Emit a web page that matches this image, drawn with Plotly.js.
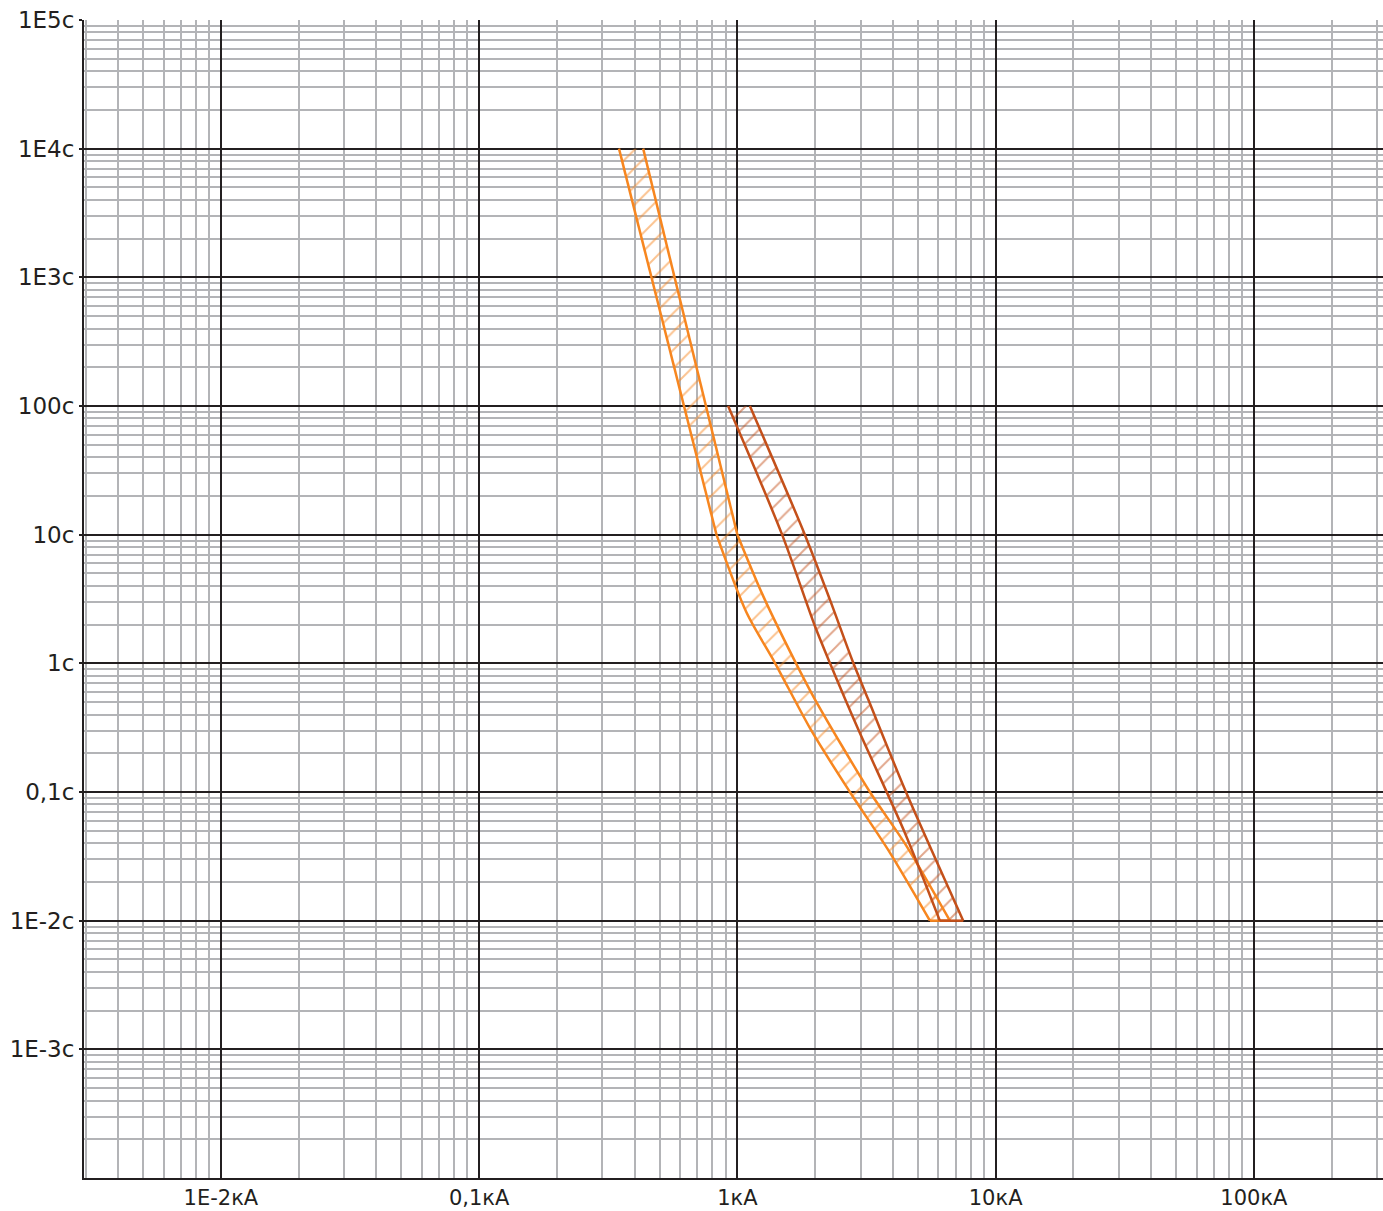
<!DOCTYPE html>
<html>
<head>
<meta charset="utf-8">
<script src="https://cdn.plot.ly/plotly-3.0.1.min.js"></script>
<style>html,body{margin:0;padding:0;background:#fff;}</style>
</head>
<body>
<div id="chart" style="width:1383px;height:1211px;"></div>
<script>
// Orange band (current kA, time s). Left boundary top->bottom, right boundary bottom->top.
// Index 1 of the left list / index (n-2) of the right list is the kink at 10 s.
const orangeLeftI  = [0.348, 0.83, 1.085, 1.397, 1.938, 2.727, 3.895, 5.565];
const orangeLeftT  = [10000, 10, 2.48, 1.01, 0.298, 0.1, 0.0338, 0.01];
const orangeRightI = [6.65, 4.52, 3.26, 1.996, 1.67, 1.259, 1.0, 0.4317];
const orangeRightT = [0.01, 0.038, 0.1, 0.525, 1.04, 3.33, 10, 10000];

// Red band
const redLeftI  = [0.921, 1.49, 1.996, 2.28, 2.937, 4.45, 6.08];
const redLeftT  = [100, 10, 1.95, 1.01, 0.307, 0.0483, 0.01];
const redRightI = [7.49, 4.45, 3.21, 2.81, 2.28, 1.825, 1.118];
const redRightT = [0.01, 0.105, 0.525, 1.01, 3.14, 10, 100];

// Axis ticks
const xTickVals = [0.01, 0.1, 1, 10, 100];
const xTickText = ['1E-2кА', '0,1кА', '1кА', '10кА', '100кА'];
const yTickVals = [1e-3, 1e-2, 0.1, 1, 10, 100, 1e3, 1e4, 1e5];
const yTickText = ['1E-3с', '1E-2с', '0,1с', '1с', '10с', '100с', '1E3с', '1E4с', '1E5с'];

const orange = '#f7861f';
const red = '#c4501a';

function fillTrace(xl, yl, xr, yr, color) {
  return {
    type: 'scatter', mode: 'lines',
    x: xl.concat(xr), y: yl.concat(yr),
    fill: 'toself',
    fillcolor: 'rgba(0,0,0,0)',
    fillpattern: {shape: '/', fgcolor: color, bgcolor: 'rgba(0,0,0,0)', size: 13, solidity: 0.15, fillmode: 'overlay'},
    line: {color: 'rgba(0,0,0,0)', width: 0},
    hoverinfo: 'skip', showlegend: false
  };
}
function edge(x, y, color, shape) {
  return {
    type: 'scatter', mode: 'lines', x: x, y: y,
    line: {color: color, width: 2.5, shape: shape, smoothing: 0.8},
    hoverinfo: 'skip', showlegend: false
  };
}

const oL = orangeLeftI.length, oR = orangeRightI.length;
const rL = redLeftI.length;
const data = [
  fillTrace(orangeLeftI, orangeLeftT, orangeRightI, orangeRightT, orange),
  fillTrace(redLeftI, redLeftT, redRightI, redRightT, red),
  // orange outline
  edge(orangeLeftI.slice(0, 2), orangeLeftT.slice(0, 2), orange, 'linear'),
  edge(orangeLeftI.slice(1), orangeLeftT.slice(1), orange, 'spline'),
  edge([orangeLeftI[oL - 1], orangeRightI[0]], [orangeLeftT[oL - 1], orangeRightT[0]], orange, 'linear'),
  edge(orangeRightI.slice(0, oR - 1), orangeRightT.slice(0, oR - 1), orange, 'spline'),
  edge(orangeRightI.slice(oR - 2), orangeRightT.slice(oR - 2), orange, 'linear'),
  // red outline
  edge(redLeftI, redLeftT, red, 'spline'),
  edge([redLeftI[rL - 1], redRightI[0]], [redLeftT[rL - 1], redRightT[0]], red, 'linear'),
  edge(redRightI, redRightT, red, 'spline')
];

const yfont = {family: 'DejaVu Sans, Liberation Sans, sans-serif', size: 23, color: '#231f20'};
const xfont = {family: 'DejaVu Sans, Liberation Sans, sans-serif', size: 21, color: '#231f20'};
const layout = {
  width: 1383, height: 1211,
  margin: {l: 84, r: 0, t: 20, b: 33, pad: 0},
  paper_bgcolor: '#fff', plot_bgcolor: '#fff',
  font: yfont,
  showlegend: false,
  xaxis: {
    type: 'log', range: [-2.53, 2.5],
    tickmode: 'array', tickvals: xTickVals, ticktext: xTickText,
    showgrid: true, gridcolor: '#231f20', gridwidth: 2,
    showline: true, linecolor: '#231f20', linewidth: 2, mirror: false,
    ticks: '', tickfont: xfont, zeroline: false,
    minor: {dtick: 'D1', showgrid: true, gridcolor: '#b3b4b7', gridwidth: 2, ticks: ''}
  },
  yaxis: {
    type: 'log', range: [-4, 5],
    tickmode: 'array', tickvals: yTickVals, ticktext: yTickText,
    showgrid: true, gridcolor: '#231f20', gridwidth: 2,
    showline: true, linecolor: '#231f20', linewidth: 2, mirror: false,
    ticks: 'outside', ticklen: 3, tickwidth: 2, tickcolor: '#231f20',
    tickfont: yfont, zeroline: false,
    minor: {dtick: 'D1', showgrid: true, gridcolor: '#b3b4b7', gridwidth: 2, ticks: ''}
  }
};

Plotly.newPlot('chart', data, layout, {displayModeBar: false, staticPlot: true});
</script>
</body>
</html>
